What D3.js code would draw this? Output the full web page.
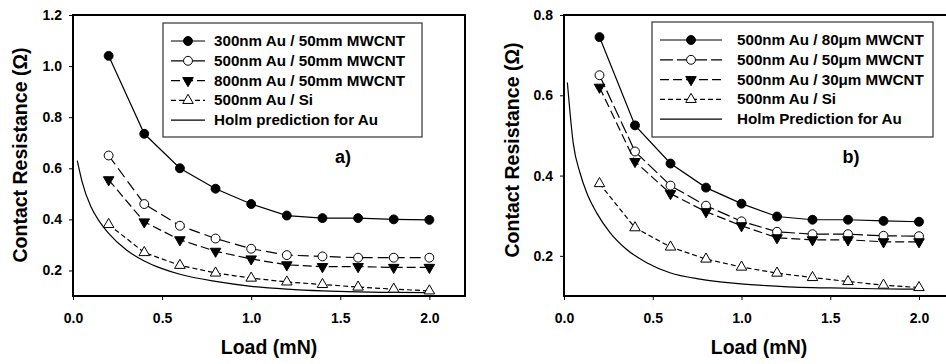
<!DOCTYPE html>
<meta charset="utf-8">
<script src="https://d3js.org/d3.v7.min.js"></script>
<style>
  body { margin: 0; background: #fff; }
  text { font-family: "Liberation Sans", Arial, sans-serif; font-weight: bold; fill: #000; }
</style>
<body>
<div id="chart"></div>
<script>
// shared x values (load, mN) and ticks
var loads = [0.2, 0.4, 0.6, 0.8, 1.0, 1.2, 1.4, 1.6, 1.8, 2.0];
var xTicks = [0.0, 0.5, 1.0, 1.5, 2.0];

// panel a)
var aLabels = ["300nm Au / 50mm MWCNT", "500nm Au / 50mm MWCNT", "800nm Au / 50mm MWCNT", "500nm Au / Si", "Holm prediction for Au"];
var aS1 = [1.04, 0.735, 0.60, 0.52, 0.46, 0.415, 0.405, 0.405, 0.40, 0.398];
var aS2 = [0.65, 0.46, 0.375, 0.325, 0.285, 0.26, 0.255, 0.25, 0.25, 0.25];
var aS3 = [0.555, 0.39, 0.32, 0.275, 0.245, 0.222, 0.215, 0.215, 0.212, 0.212];
var aS4 = [0.38, 0.27, 0.22, 0.19, 0.17, 0.155, 0.145, 0.135, 0.127, 0.12];
var aHolmX = [0.024, 0.05, 0.1, 0.15, 0.2, 0.3, 0.4, 0.5, 0.6, 0.8, 1.0, 1.2, 1.4, 1.6, 1.8, 2.0];
var aHolmY = [0.63, 0.55, 0.45, 0.39, 0.345, 0.28, 0.237, 0.207, 0.185, 0.157, 0.138, 0.127, 0.12, 0.116, 0.114, 0.113];
var aYTicks = [0.2, 0.4, 0.6, 0.8, 1.0, 1.2];

// panel b)
var bLabels = ["500nm Au / 80\u03bcm MWCNT", "500nm Au / 50\u03bcm MWCNT", "500nm Au / 30\u03bcm MWCNT", "500nm Au / Si", "Holm Prediction for Au"];
var bS1 = [0.745, 0.525, 0.43, 0.37, 0.33, 0.298, 0.29, 0.29, 0.287, 0.285];
var bS2 = [0.65, 0.46, 0.375, 0.325, 0.286, 0.26, 0.254, 0.254, 0.25, 0.249];
var bS3 = [0.62, 0.435, 0.355, 0.31, 0.275, 0.245, 0.24, 0.24, 0.235, 0.235];
var bS4 = [0.38, 0.27, 0.222, 0.192, 0.172, 0.157, 0.146, 0.136, 0.127, 0.121];
var bHolmX = [0.019, 0.052, 0.09, 0.128, 0.184, 0.259, 0.353, 0.466, 0.597, 0.766, 0.954, 1.1, 1.3, 1.5, 1.75, 2.0];
var bHolmY = [0.632, 0.481, 0.407, 0.357, 0.307, 0.258, 0.216, 0.183, 0.158, 0.142, 0.132, 0.127, 0.122, 0.12, 0.118, 0.117];
var bYTicks = [0.2, 0.4, 0.6, 0.8];

var width = 946, height = 364;
var svg = d3.select("#chart").append("svg")
  .attr("width", width)
  .attr("height", height);

function drawPanel(p) {
  var x = d3.scaleLinear().domain([0, 2.2]).range([p.left, p.right]);
  var y = d3.scaleLinear().domain(p.yDomain).range([p.bottom, p.top]);
  var g = svg.append("g");

  // axes with outward ticks
  g.append("g")
    .attr("transform", "translate(0," + p.bottom + ")")
    .call(d3.axisBottom(x).tickValues(xTicks).tickSize(4).tickPadding(13).tickFormat(d3.format(".1f")))
    .call(function (a) {
      a.select(".domain").remove();
      a.selectAll("text").attr("font-size", "14px").attr("font-family", null);
    });
  g.append("g")
    .attr("transform", "translate(" + p.left + ",0)")
    .call(d3.axisLeft(y).tickValues(p.yTicks).tickSize(4).tickPadding(7).tickFormat(d3.format(".1f")))
    .call(function (a) {
      a.select(".domain").remove();
      a.selectAll("text").attr("font-size", "14px").attr("font-family", null);
    });

  // frame
  g.append("rect")
    .attr("x", p.left).attr("y", p.top)
    .attr("width", p.right - p.left).attr("height", p.bottom - p.top)
    .attr("fill", "none").attr("stroke", "#000").attr("stroke-width", 2);

  // holm curve
  var line = d3.line().x(function (d) { return x(d[0]); }).y(function (d) { return y(d[1]); }).curve(d3.curveMonotoneX);
  g.append("path")
    .datum(d3.zip(p.holmX, p.holmY))
    .attr("d", line)
    .attr("fill", "none").attr("stroke", "#000").attr("stroke-width", 1.2);

  // data series
  p.series.forEach(function (s, i) {
    var pts = d3.zip(loads, s);
    g.append("path")
      .datum(pts)
      .attr("d", d3.line().x(function (d) { return x(d[0]); }).y(function (d) { return y(d[1]); }))
      .attr("fill", "none").attr("stroke", "#000").attr("stroke-width", 1.2)
      .attr("stroke-dasharray", p.dashes[i]);
    g.selectAll(null)
      .data(pts)
      .enter()
      .append("path")
      .attr("transform", function (d) { return "translate(" + x(d[0]) + "," + y(d[1]) + ")"; })
      .call(marker, i);
  });

  // legend
  var lg = g.append("g");
  lg.append("rect")
    .attr("x", p.legend.x).attr("y", p.legend.y)
    .attr("width", p.legend.w).attr("height", p.legend.h)
    .attr("fill", "#fff").attr("stroke", "#333").attr("stroke-width", 1.2);
  p.labels.forEach(function (lab, i) {
    var ly = p.legend.y + 18 + i * 19.8;
    lg.append("line")
      .attr("x1", p.legend.lx1).attr("x2", p.legend.lx2)
      .attr("y1", ly).attr("y2", ly)
      .attr("stroke", "#000").attr("stroke-width", 1.2)
      .attr("stroke-dasharray", i < 4 ? p.legendDashes[i] : null);
    if (i < 4) {
      lg.append("path")
        .attr("transform", "translate(" + (p.legend.lx1 + p.legend.lx2) / 2 + "," + ly + ")")
        .call(marker, i);
    }
    lg.append("text")
      .attr("x", p.legend.tx).attr("y", ly + 5)
      .attr("font-size", "15.2px")
      .text(lab);
  });

  // panel letter
  g.append("text")
    .attr("x", p.tag[0]).attr("y", p.tag[1] + 6)
    .attr("text-anchor", "middle")
    .attr("font-size", "18px")
    .text(p.tagText);

  // axis titles
  g.append("text")
    .attr("x", p.xTitle).attr("y", 354)
    .attr("text-anchor", "middle")
    .attr("font-size", "19.5px")
    .text("Load (mN)");
  g.append("text")
    .attr("transform", "translate(" + p.yTitle[0] + "," + p.yTitle[1] + ") rotate(-90)")
    .attr("text-anchor", "middle")
    .attr("font-size", "19.5px")
    .text("Contact Resistance (\u03a9)");
}

function marker(sel, i) {
  var tri = d3.symbol().type(d3.symbolTriangle).size(48)();
  if (i === 0) sel.attr("d", d3.symbol().type(d3.symbolCircle).size(62)()).attr("fill", "#000").attr("stroke", "#000");
  if (i === 1) sel.attr("d", d3.symbol().type(d3.symbolCircle).size(62)()).attr("fill", "#fff").attr("stroke", "#000");
  if (i === 2) sel.attr("d", tri).attr("fill", "#000").attr("stroke", "#000")
    .attr("transform", function () { return d3.select(this).attr("transform") + " rotate(180)"; });
  if (i === 3) sel.attr("d", tri).attr("fill", "#fff").attr("stroke", "#000");
  sel.attr("stroke-width", 1);
}

drawPanel({
  left: 73, right: 465, top: 15, bottom: 296,
  yDomain: [0.1, 1.2], yTicks: aYTicks,
  series: [aS1, aS2, aS3, aS4], holmX: aHolmX, holmY: aHolmY,
  dashes: [null, "11,5", "9,4", "5,3"],
  legendDashes: [null, null, "9,4", "5,3"],
  labels: aLabels,
  legend: { x: 163, y: 23, w: 259, h: 114, lx1: 171, lx2: 205, tx: 214 },
  tag: [343, 157], tagText: "a)",
  xTitle: 269, yTitle: [27, 155]
});

drawPanel({
  left: 564, right: 954.5, top: 15, bottom: 296,
  yDomain: [0.1, 0.8], yTicks: bYTicks,
  series: [bS1, bS2, bS3, bS4], holmX: bHolmX, holmY: bHolmY,
  dashes: [null, "13,4", "9,4", "5,3"],
  legendDashes: [null, "13,4", "9,4", "5,3"],
  labels: bLabels,
  legend: { x: 652, y: 22, w: 281, h: 115, lx1: 660, lx2: 722, tx: 737 },
  tag: [851, 157], tagText: "b)",
  xTitle: 759, yTitle: [519, 150]
});
</script>
</body>
